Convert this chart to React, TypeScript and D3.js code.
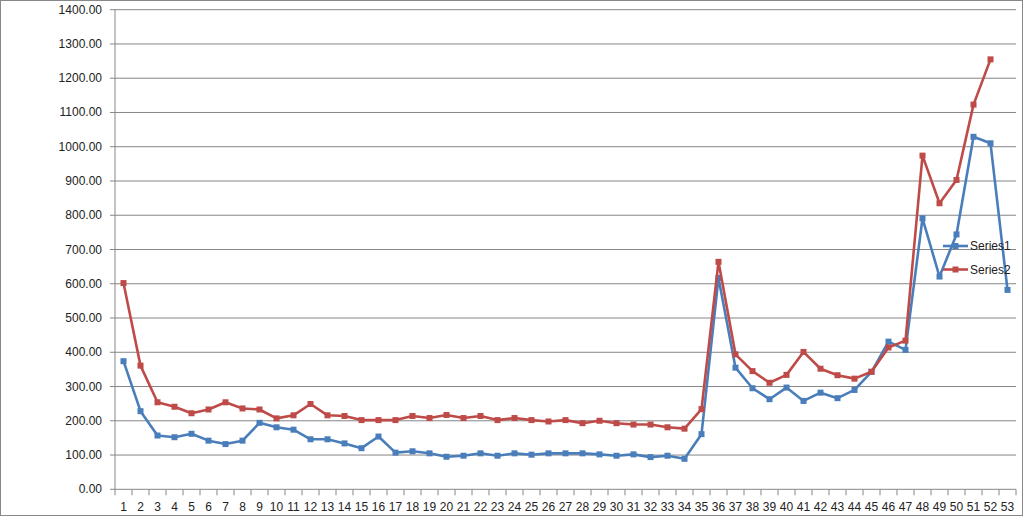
import React from "react";
import * as d3 from "d3";

const categories: string[] = Array.from({ length: 53 }, (_, i) => String(i + 1));
const series1: (number | null)[] = [
  374, 228, 157, 152, 162, 142, 132, 142, 194, 181, 174, 146, 146, 134, 120, 154, 107, 111, 105, 95,
  98, 105, 98, 105, 101, 105, 105, 105, 102, 98, 102, 94, 98, 89, 161, 617, 355, 295, 263, 297,
  258, 282, 266, 290, 343, 431, 407, 791, 621, 744, 1029, 1010, 582,
];
const series2: (number | null)[] = [
  602, 361, 254, 241, 222, 233, 254, 236, 233, 207, 216, 249, 216, 214, 202, 202, 202, 214, 208, 217,
  208, 214, 202, 208, 202, 198, 202, 193, 200, 193, 189, 189, 181, 177, 234, 664, 394, 345, 311, 334,
  401, 352, 333, 323, 343, 414, 434, 974, 835, 903, 1123, 1255, null,
];
const yTicks: number[] = [0, 100, 200, 300, 400, 500, 600, 700, 800, 900, 1000, 1100, 1200, 1300, 1400];
const seriesNames = ["Series1", "Series2"];
const colors = ["#4A7EBB", "#BE4B48"];

export default function App() {
  const W = 1024, H = 517;
  const left = 115, right = 1016, top = 9.7, bottom = 489.3;
  const x = d3.scaleBand<string>().domain(categories).range([left, right]);
  const y = d3.scaleLinear().domain([0, 1400]).range([bottom, top]);
  const cx = (c: string) => (x(c) as number) + x.bandwidth() / 2;
  const line = d3
    .line<number | null>()
    .defined((d) => d != null)
    .x((_, i) => cx(categories[i]))
    .y((d) => y(d as number));
  const data = [series1, series2];
  const font = "'Liberation Sans', Arial, sans-serif";
  return (
    <svg width={W} height={H} style={{ position: "absolute", left: 0, top: 0 }}>
      <rect x={0.5} y={0.5} width={W - 2} height={H - 2} fill="#fff" stroke="#888" strokeWidth={1} />
      {yTicks.map((t) => (
        <g key={t}>
          <line x1={left - 5} x2={right} y1={y(t)} y2={y(t)} stroke="#868686" strokeWidth={1} />
          <text x={left - 13} y={y(t) + 4} textAnchor="end" fontSize={12} fontFamily={font} fill="#222">
            {t.toFixed(2)}
          </text>
        </g>
      ))}
      <line x1={left} x2={left} y1={top} y2={bottom} stroke="#868686" strokeWidth={1} />
      {categories.map((c, i) => (
        <g key={c}>
          <line x1={x(c) as number} x2={x(c) as number} y1={bottom} y2={bottom + 6} stroke="#868686" />
          {i === categories.length - 1 && (
            <line x1={right} x2={right} y1={bottom} y2={bottom + 6} stroke="#868686" />
          )}
          <text x={cx(c)} y={bottom + 22} textAnchor="middle" fontSize={12} fontFamily={font} fill="#222">
            {c}
          </text>
        </g>
      ))}
      {data.map((s, k) => (
        <g key={k}>
          <path d={line(s) || ""} fill="none" stroke={colors[k]} strokeWidth={2.6} strokeLinejoin="round" />
          {s.map((v, i) =>
            v == null ? null : (
              <rect key={i} x={cx(categories[i]) - 3} y={y(v) - 3} width={6} height={6} fill={colors[k]} />
            )
          )}
        </g>
      ))}
      {seriesNames.map((n, k) => (
        <g key={n} transform={`translate(943, ${246 + k * 23.5})`}>
          <line x1={0} x2={25} y1={0} y2={0} stroke={colors[k]} strokeWidth={2.6} />
          <rect x={9.5} y={-3} width={6} height={6} fill={colors[k]} />
          <text x={27} y={4} fontSize={12} fontFamily={font} fill="#222">
            {n}
          </text>
        </g>
      ))}
    </svg>
  );
}
